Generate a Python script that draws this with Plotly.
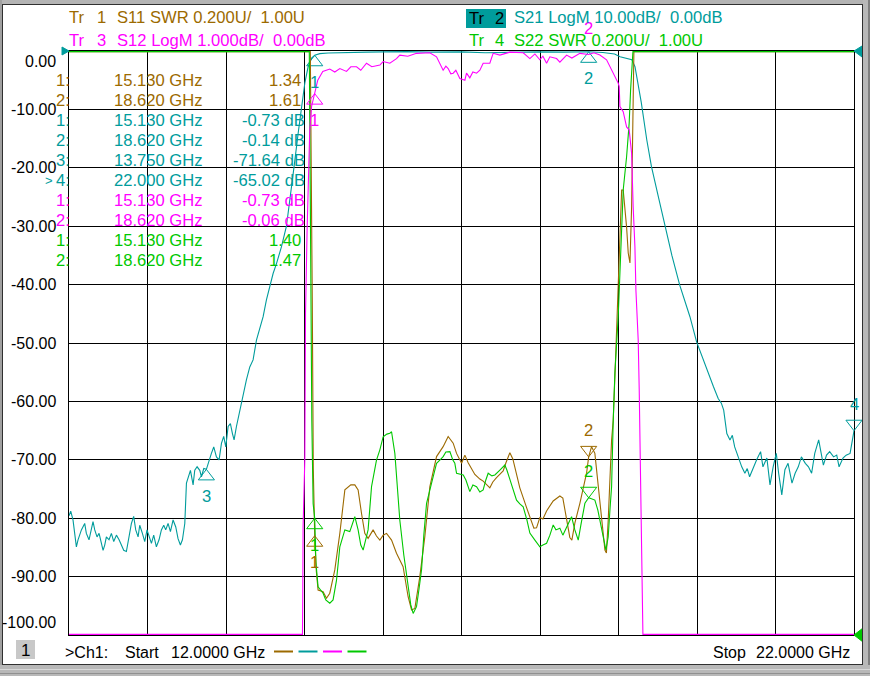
import plotly.graph_objects as go

FONT = "Liberation Sans, Arial, sans-serif"
BROWN, TEAL, MAGENTA, GREEN = "#9C6A00", "#009C9C", "#FF00FF", "#00C800"

# %% sweep and display scales (10 divisions each)
f_start, f_stop = 12.0, 22.0
s21_range = [-100.0, 0.0]   # LogM 10 dB/div, ref 0 dB at top
s12_range = [-10.0, 0.0]    # LogM 1 dB/div, ref 0 dB at top
swr_range = [1.0, 3.0]      # SWR 0.2 U/div, ref 1.00 U at bottom
y_ticks = [0, -10, -20, -30, -40, -50, -60, -70, -80, -90, -100]

# %% Tr 2  S21 LogM (dB)
s21_f = [12.00, 12.022, 12.051, 12.094, 12.115, 12.158, 12.200, 12.221, 12.255, 12.285,
         12.306, 12.328, 12.357, 12.383, 12.412, 12.434, 12.455, 12.476, 12.510, 12.540,
         12.570, 12.604, 12.638, 12.667, 12.697, 12.731, 12.761, 12.795, 12.824, 12.850,
         12.880, 12.901, 12.935, 12.965, 12.994, 13.020, 13.050, 13.079, 13.113, 13.147,
         13.177, 13.207, 13.232, 13.262, 13.292, 13.326, 13.360, 13.389, 13.419, 13.445,
         13.475, 13.496, 13.517, 13.547, 13.581, 13.602, 13.632, 13.666, 13.687, 13.717,
         13.750, 13.785, 13.814, 13.844, 13.878, 13.912, 13.942, 13.971, 13.997, 14.027,
         14.056, 14.082, 14.103, 14.133, 14.175, 14.218, 14.260, 14.303, 14.345, 14.388,
         14.430, 14.473, 14.515, 14.558, 14.600, 14.643, 14.707, 14.770, 14.820, 14.870,
         14.920, 14.960, 15.004, 15.046, 15.090, 15.130, 15.195, 15.30, 15.50, 15.80,
         16.00, 16.30, 16.60, 17.00, 17.30, 17.60, 18.00, 18.30, 18.62, 18.80,
         18.95, 19.02, 19.10, 19.17, 19.21, 19.25, 19.29, 19.36, 19.42, 19.50,
         19.59, 19.68, 19.78, 19.91, 19.995, 20.08, 20.14, 20.21, 20.27, 20.31,
         20.34, 20.38, 20.42, 20.45, 20.48, 20.53, 20.57, 20.61, 20.64, 20.67,
         20.72, 20.76, 20.81, 20.84, 20.89, 20.93, 20.97, 21.01, 21.04, 21.08,
         21.12, 21.16, 21.21, 21.25, 21.29, 21.33, 21.38, 21.42, 21.46, 21.50,
         21.55, 21.58, 21.61, 21.65, 21.69, 21.74, 21.78, 21.81, 21.86, 21.90,
         21.95, 21.98, 22.00]
s21_db = [-79.6, -78.8, -80.3, -84.9, -83.7, -82.0, -80.9, -82.6, -83.7, -81.5,
          -80.6, -82.0, -83.2, -82.6, -84.3, -85.5, -84.6, -83.2, -83.7, -82.6,
          -84.0, -82.9, -83.7, -84.6, -85.5, -85.7, -83.7, -80.9, -79.7, -82.0,
          -83.2, -81.2, -82.6, -84.0, -82.0, -83.2, -84.3, -82.9, -84.9, -83.7,
          -82.0, -81.2, -82.0, -80.9, -82.3, -80.3, -81.5, -83.5, -84.6, -83.7,
          -80.9, -74.0, -72.9, -71.8, -74.3, -71.8, -71.2, -71.8, -72.9, -71.5,
          -71.64, -70.0, -68.9, -67.8, -69.5, -70.0, -67.2, -66.0, -67.8, -64.3,
          -63.8, -65.5, -66.6, -64.3, -61.5, -58.6, -56.3, -54.1, -52.9, -49.5,
          -47.5, -45.5, -42.6, -40.4, -38.1, -36.4, -33.5, -30.0, -25.0, -19.5,
          -14.0, -10.0, -5.5, -2.7, -1.2, -0.73, -0.45, -0.35, -0.25, -0.2,
          -0.15, -0.1, -0.2, -0.15, -0.3, -0.2, -0.15, -0.2, -0.14, -0.25,
          -0.5, -1.0, -1.2, -1.5, -2.7, -5.5, -8.8, -15.2, -19.8, -24.5,
          -29.8, -35.0, -40.1, -45.5, -49.8, -52.9, -55.2, -57.5, -59.5, -60.3,
          -61.5, -65.5, -66.6, -65.8, -67.8, -69.7, -71.2, -72.3, -71.5, -72.9,
          -71.2, -70.0, -68.6, -71.2, -69.7, -74.3, -71.2, -68.9, -72.3, -76.0,
          -71.7, -70.6, -74.0, -72.3, -71.2, -69.5, -70.6, -71.2, -72.3, -68.9,
          -66.6, -68.9, -70.9, -69.2, -68.6, -69.5, -69.2, -71.2, -69.7, -69.2,
          -68.9, -66.6, -65.02]

# %% Tr 3  S12 LogM (dB), stop band sits on the display floor
s12_f = [12.00, 14.974, 14.978, 14.982, 15.004, 15.013, 15.033, 15.046, 15.067, 15.09,
         15.13, 15.169, 15.233, 15.322, 15.386, 15.450, 15.535, 15.590, 15.663, 15.717,
         15.790, 15.858, 15.960, 16.002, 16.087, 16.172, 16.214, 16.316, 16.427, 16.596,
         16.682, 16.724, 16.766, 16.801, 16.830, 16.864, 16.894, 16.928, 16.979, 17.043,
         17.064, 17.106, 17.145, 17.192, 17.234, 17.276, 17.361, 17.403, 17.489, 17.616,
         17.786, 17.871, 17.935, 17.998, 18.037, 18.084, 18.126, 18.211, 18.253, 18.339,
         18.406, 18.508, 18.62, 18.687, 18.763, 18.848, 18.891, 18.933, 18.996, 19.009,
         19.018, 19.060, 19.103, 19.136, 19.152, 19.167, 19.187, 19.209, 19.222, 19.251,
         19.264, 19.273, 19.282, 19.299, 19.311, 22.00]
s12_db = [-9.99, -9.99, -9.28, -8.15, -7.00, -4.49, -3.07, -2.38, -1.35, -0.95,
          -0.73, -0.50, -0.35, -0.31, -0.36, -0.30, -0.35, -0.27, -0.27, -0.33,
          -0.21, -0.27, -0.24, -0.18, -0.21, -0.13, -0.07, -0.09, -0.04, -0.03,
          -0.10, -0.22, -0.33, -0.26, -0.30, -0.39, -0.38, -0.33, -0.47, -0.50,
          -0.38, -0.46, -0.36, -0.38, -0.33, -0.21, -0.21, -0.04, -0.07, -0.02,
          -0.03, -0.13, -0.05, -0.15, -0.09, -0.21, -0.10, -0.13, -0.19, -0.07,
          -0.12, -0.04, -0.06, -0.03, -0.07, -0.15, -0.26, -0.38, -0.55, -0.61,
          -0.95, -1.04, -1.30, -1.35, -1.52, -1.75, -2.67, -3.35, -4.10, -4.95,
          -5.80, -6.66, -7.69, -8.89, -9.99, -9.99]

# %% Tr 1  S11 SWR, stop band sits on the display ceiling
s11_f = [12.00, 15.074, 15.099, 15.112, 15.13, 15.150, 15.173, 15.237, 15.280, 15.322,
         15.386, 15.450, 15.514, 15.556, 15.590, 15.641, 15.683, 15.726, 15.768, 15.810,
         15.874, 15.917, 15.960, 16.002, 16.045, 16.109, 16.172, 16.256, 16.320, 16.364,
         16.406, 16.469, 16.533, 16.597, 16.682, 16.766, 16.830, 16.894, 16.937, 17.001,
         17.043, 17.085, 17.170, 17.234, 17.276, 17.361, 17.399, 17.446, 17.531, 17.565,
         17.616, 17.654, 17.680, 17.743, 17.829, 17.893, 17.922, 17.956, 17.998, 18.037,
         18.084, 18.168, 18.253, 18.291, 18.317, 18.380, 18.406, 18.444, 18.508, 18.593,
         18.62, 18.657, 18.699, 18.741, 18.785, 18.827, 18.846, 18.869, 18.912, 18.933,
         18.962, 18.987, 19.012, 19.040, 19.060, 19.082, 19.103, 19.124, 19.146, 19.167,
         19.180, 19.187, 19.196, 22.00]
s11_swr = [2.998, 2.998, 2.15, 1.57, 1.34, 1.22, 1.154, 1.148, 1.126, 1.143,
           1.223, 1.348, 1.497, 1.508, 1.514, 1.514, 1.497, 1.417, 1.348, 1.331,
           1.360, 1.339, 1.325, 1.342, 1.348, 1.325, 1.280, 1.234, 1.131, 1.086,
           1.091, 1.200, 1.337, 1.508, 1.611, 1.645, 1.680, 1.657, 1.622, 1.588,
           1.616, 1.590, 1.550, 1.534, 1.527, 1.504, 1.524, 1.539, 1.562, 1.589,
           1.624, 1.603, 1.573, 1.504, 1.436, 1.390, 1.366, 1.367, 1.402, 1.397,
           1.425, 1.459, 1.476, 1.469, 1.425, 1.334, 1.325, 1.383, 1.451, 1.554,
           1.61, 1.645, 1.622, 1.508, 1.394, 1.291, 1.281, 1.394, 1.668, 1.736,
           1.942, 2.147, 2.353, 2.524, 2.524, 2.466, 2.397, 2.308, 2.274, 2.466,
           2.695, 2.925, 2.998, 2.998]

# %% Tr 4  S22 SWR
s22_f = [12.00, 15.061, 15.074, 15.093, 15.110, 15.13, 15.145, 15.173, 15.237, 15.271,
         15.322, 15.364, 15.408, 15.450, 15.514, 15.577, 15.641, 15.683, 15.717, 15.747,
         15.810, 15.854, 15.917, 15.960, 16.002, 16.049, 16.087, 16.109, 16.151, 16.183,
         16.214, 16.265, 16.320, 16.354, 16.384, 16.427, 16.457, 16.491, 16.520, 16.555,
         16.618, 16.682, 16.724, 16.766, 16.801, 16.852, 16.890, 16.915, 16.937, 16.979,
         17.022, 17.056, 17.106, 17.145, 17.192, 17.234, 17.276, 17.310, 17.340, 17.387,
         17.425, 17.489, 17.552, 17.578, 17.616, 17.654, 17.701, 17.743, 17.786, 17.833,
         17.871, 17.935, 17.998, 18.037, 18.084, 18.126, 18.168, 18.203, 18.253, 18.291,
         18.339, 18.368, 18.402, 18.444, 18.487, 18.521, 18.572, 18.62, 18.699, 18.737,
         18.785, 18.814, 18.840, 18.869, 18.891, 18.912, 18.933, 18.954, 18.996, 19.018,
         19.060, 19.103, 19.136, 19.154, 19.180, 19.184, 22.00]
s22_swr = [2.998, 2.998, 2.49, 1.736, 1.45, 1.40, 1.25, 1.165, 1.143, 1.120,
           1.109, 1.120, 1.188, 1.302, 1.360, 1.354, 1.405, 1.360, 1.308, 1.291,
           1.360, 1.508, 1.599, 1.634, 1.679, 1.688, 1.691, 1.696, 1.622, 1.497,
           1.394, 1.274, 1.166, 1.103, 1.074, 1.097, 1.154, 1.223, 1.342, 1.451,
           1.519, 1.588, 1.599, 1.611, 1.627, 1.628, 1.599, 1.588, 1.554, 1.551,
           1.548, 1.531, 1.491, 1.514, 1.508, 1.490, 1.497, 1.531, 1.554, 1.545,
           1.548, 1.565, 1.582, 1.565, 1.531, 1.497, 1.462, 1.449, 1.439, 1.394,
           1.349, 1.325, 1.302, 1.308, 1.314, 1.342, 1.377, 1.360, 1.366, 1.342,
           1.371, 1.387, 1.405, 1.360, 1.325, 1.377, 1.451, 1.47, 1.462, 1.428,
           1.371, 1.325, 1.291, 1.337, 1.428, 1.508, 1.736, 1.897, 2.090, 2.240,
           2.524, 2.638, 2.753, 2.866, 2.993, 2.998, 2.998]

# %% markers (freq GHz, value, which way the triangle points)
mk1_f, mk1_v, mk1_dir = [15.13, 18.62], [1.34, 1.61], ["up", "down"]
mk2_f = [15.13, 18.62, 13.75, 22.0]
mk2_v = [-0.73, -0.14, -71.64, -65.02]
mk2_dir = ["up", "up", "up", "down"]
mk3_f, mk3_v, mk3_dir = [15.13, 18.62], [-0.73, -0.06], ["up", "down"]
mk4_f, mk4_v, mk4_dir = [15.13, 18.62], [1.40, 1.47], ["up", "down"]

# %% screen geometry (px)
W, H = 870, 676
L, R, T, B = 69, 854, 51, 635
FS = 16.6


def px(x):
    return (x - L) / (R - L)


def py(y):
    return (B - y) / (B - T)


anns = []
shapes = []


def text(x, y, s, color="black", xanchor="left", size=FS, bg=None):
    anns.append(dict(x=px(x), y=py(y), xref="paper", yref="paper", text=s,
                     showarrow=False, xanchor=xanchor, yanchor="middle",
                     font=dict(family=FONT, size=size, color=color),
                     bgcolor=bg, borderpad=0))


def rect(x0, y0, x1, y1, color):
    shapes.append(dict(type="rect", xref="paper", yref="paper", x0=px(x0), x1=px(x1),
                       y0=py(y0), y1=py(y1), fillcolor=color, line_width=0, layer="above"))


def tri(pts, color):
    path = "M " + " L ".join(f"{px(a)},{py(b)}" for a, b in pts) + " Z"
    shapes.append(dict(type="path", xref="paper", yref="paper", path=path,
                       fillcolor=color, line=dict(color=color, width=1), layer="above"))


fig = go.Figure()

traces = [
    (s11_f, s11_swr, BROWN, "y2"),
    (s21_f, s21_db, TEAL, "y"),
    (s12_f, s12_db, MAGENTA, "y3"),
    (s22_f, s22_swr, GREEN, "y2"),
]
for xs, ys, col, ax in traces:
    fig.add_trace(go.Scatter(x=xs, y=ys, mode="lines", yaxis=ax,
                             line=dict(color=col, width=1.1), hoverinfo="skip",
                             showlegend=False))

spans = {"y": s21_range[1] - s21_range[0], "y2": swr_range[1] - swr_range[0],
         "y3": s12_range[1] - s12_range[0]}
markers = [
    (mk1_f, mk1_v, mk1_dir, BROWN, "y2"),
    (mk2_f, mk2_v, mk2_dir, TEAL, "y"),
    (mk3_f, mk3_v, mk3_dir, MAGENTA, "y3"),
    (mk4_f, mk4_v, mk4_dir, GREEN, "y2"),
]
for fs, vs, dirs, col, ax in markers:
    upp = spans[ax] / (B - T)
    ys = [v - 7 * upp if d == "up" else v + 7 * upp for v, d in zip(vs, dirs)]
    syms = ["triangle-up-open" if d == "up" else "triangle-down-open" for d in dirs]
    fig.add_trace(go.Scatter(x=fs, y=ys, mode="markers", yaxis=ax, cliponaxis=False,
                             marker=dict(symbol=syms, size=14, color=col,
                                         line=dict(color=col, width=1)),
                             hoverinfo="skip", showlegend=False))
    for i, (f, v, d) in enumerate(zip(fs, vs, dirs)):
        anns.append(dict(x=f, y=v, xref="x", yref=ax, text=str(i + 1), showarrow=False,
                         yshift=-27 if d == "up" else 26,
                         font=dict(family=FONT, size=FS, color=col)))

# %% marker table
rows = []
for fs, vs, _, col, ax in markers:
    for i, (f, v) in enumerate(zip(fs, vs)):
        val = f"{v:.2f}" if ax == "y2" else f"{v:.2f} dB"
        rows.append((col, i + 1, f"{f:.3f} GHz", val, ax))
for k, (col, n, fs, val, ax) in enumerate(rows):
    y = 81 + 19.9 * k
    text(71, y, f"{n}:", col, "right")
    text(113, y, fs, col)
    text(302 if ax == "y2" else 306, y, val, col, "right")
text(54, 81 + 19.9 * 5, ">", TEAL, "right", size=13)

# %% headers
text(68, 17, "Tr", BROWN)
text(96, 17, "1", BROWN)
text(116, 17, "S11 SWR 0.200U/\u00a0\u00a01.00U", BROWN)
text(68, 40, "Tr", MAGENTA)
text(96, 40, "3", MAGENTA)
text(116, 40, "S12 LogM 1.000dB/\u00a0\u00a00.00dB", MAGENTA)
rect(466, 9, 506, 28, TEAL)
text(468, 18, "Tr", "black")
text(494, 18, "2", "black")
text(513, 17, "S21 LogM 10.00dB/\u00a0\u00a00.00dB", TEAL)
text(468, 40, "Tr", GREEN)
text(494, 40, "4", GREEN)
text(513, 40, "S22 SWR 0.200U/\u00a0\u00a01.00U", GREEN)

# %% y labels
for v in y_ticks:
    shift = -10 if v == y_ticks[0] else (13 if v == y_ticks[-1] else 0)
    anns.append(dict(x=px(58), y=v, xref="paper", yref="y", text=f"{v:.2f}",
                     showarrow=False, xanchor="right", yanchor="middle", yshift=shift,
                     font=dict(family=FONT, size=16, color="black")))

# %% reference arrows on the graticule edges
tri([(62, 47), (69, 51), (62, 55)], TEAL)
tri([(862, 46), (854, 51), (862, 57)], TEAL)
tri([(863, 628), (854, 635), (863, 642)], GREEN)

# %% status line
rect(16, 640, 35, 659, "#C8C8C8")
text(25.5, 650, "1", "black", "center", size=17)
text(64, 652, ">Ch1:", "black", size=16)
text(124, 652, "Start", "black", size=16)
text(170, 652, f"{f_start:.4f} GHz", "black", size=16)
text(712, 652, "Stop", "black", size=16)
text(851, 652, f"{f_stop:.4f} GHz", "black", "right", size=16)
for k, col in enumerate([BROWN, TEAL, MAGENTA, GREEN]):
    x0 = 274 + 24.5 * k
    shapes.append(dict(type="line", xref="paper", yref="paper", x0=px(x0), x1=px(x0 + 19),
                       y0=py(651.5), y1=py(651.5), line=dict(color=col, width=2)))

# %% window frame
rect(0, 0, W, 4, "#B4B4B4")
rect(0, 4, W, 5, "#303030")
rect(0, 0, 2, H, "#A0A0A0")
rect(2, 4, 3, 665, "#303030")
rect(862, 4, 863, 665, "#303030")
rect(863, 0, W, H, "#B8B8B8")
rect(868, 0, W, H, "#808080")
rect(2, 664, 863, 665, "#303030")
rect(0, 665, W, H, "#B8B8B8")
rect(0, 669, W, 670, "#D8D8D8")
rect(0, 673, W, 674, "#909090")

axis = dict(showgrid=True, gridcolor="#000000", gridwidth=1, showticklabels=False,
            ticks="", zeroline=False, showline=True, mirror=True, linecolor="#000000",
            linewidth=1, layer="below traces", fixedrange=True)
fig.update_layout(
    width=W, height=H,
    margin=dict(l=L, r=W - R, t=T, b=H - B, pad=0),
    paper_bgcolor="white", plot_bgcolor="white",
    xaxis=dict(axis, range=[f_start, f_stop], dtick=1),
    yaxis=dict(axis, range=s21_range, dtick=10),
    yaxis2=dict(range=swr_range, overlaying="y", visible=False, fixedrange=True),
    yaxis3=dict(range=s12_range, overlaying="y", visible=False, fixedrange=True),
    annotations=anns, shapes=shapes,
)

fig.write_html("out.html", config={"displayModeBar": False},
               post_script="document.body.style.margin='0';"
                           "document.body.style.overflow='hidden';")
